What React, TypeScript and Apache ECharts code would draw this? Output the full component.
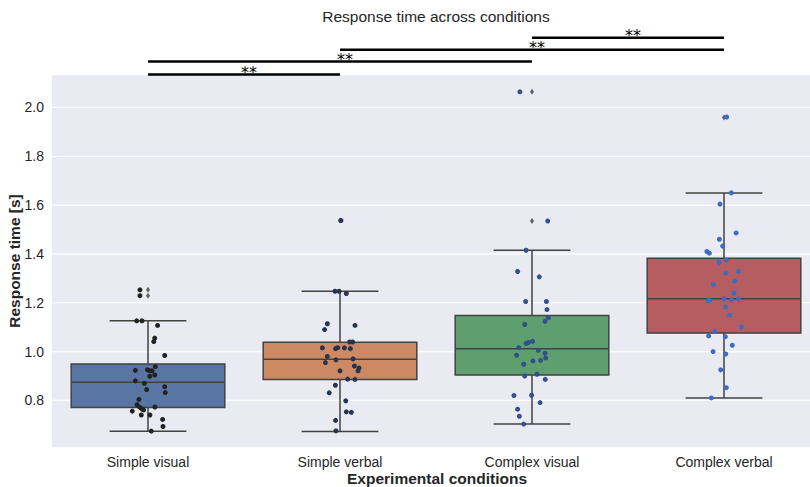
import React, { useEffect, useRef } from "react";
import * as echarts from "echarts";

const categories = ["Simple visual", "Simple verbal", "Complex visual", "Complex verbal"];
const yTicks = [0.8, 1.0, 1.2, 1.4, 1.6, 1.8, 2.0];

// [lower whisker, Q1, median, Q3, upper whisker]
const boxSimpleVisual = [0.674, 0.771, 0.874, 0.949, 1.126];
const boxSimpleVerbal = [0.673, 0.886, 0.969, 1.038, 1.247];
const boxComplexVisual = [0.703, 0.904, 1.011, 1.148, 1.415];
const boxComplexVerbal = [0.81, 1.076, 1.216, 1.382, 1.65];

const fliersSimpleVisual = [1.253, 1.229];
const fliersSimpleVerbal = [1.537];
const fliersComplexVisual = [2.064, 1.535];
const fliersComplexVerbal = [1.959];

const rtSimpleVisual = [1.253, 1.229, 1.126, 1.126, 1.107, 1.055, 1.041, 0.984, 0.938, 0.923, 0.925, 0.921, 0.921, 0.904, 0.899, 0.88, 0.87, 0.856, 0.844, 0.832, 0.804, 0.782, 0.771, 0.764, 0.761, 0.773, 0.756, 0.74, 0.74, 0.722, 0.693, 0.674];
const jitterSimpleVisual = [-0.042, -0.042, -0.059, -0.031, 0.05, 0.035, 0.03, 0.087, 0.038, -0.066, -0.003, 0.01, 0.021, 0.035, 0.009, -0.066, -0.019, 0.087, -0.007, 0.09, -0.047, -0.057, -0.042, -0.03, -0.023, 0.036, -0.082, -0.035, 0.01, 0.076, 0.078, 0.017];

const rtSimpleVerbal = [1.537, 1.247, 1.247, 1.238, 1.114, 1.09, 1.107, 1.039, 1.039, 1.015, 1.012, 1.016, 1.015, 1.012, 0.98, 0.966, 0.97, 0.955, 0.941, 0.933, 0.921, 0.921, 0.887, 0.886, 0.862, 0.831, 0.798, 0.753, 0.751, 0.718, 0.675];
const jitterSimpleVerbal = [0.005, -0.026, -0.005, 0.033, -0.066, -0.08, 0.078, 0.05, 0.066, -0.092, -0.023, -0.012, 0.023, 0.054, -0.066, -0.021, 0.068, -0.076, 0.075, 0.099, 0.094, 0.0, 0.04, 0.078, -0.024, -0.056, 0.03, 0.033, 0.059, -0.023, -0.021];

const rtComplexVisual = [2.064, 1.535, 1.415, 1.328, 1.306, 1.205, 1.205, 1.172, 1.139, 1.124, 1.111, 1.042, 1.037, 1.033, 1.016, 1.005, 0.985, 0.993, 0.974, 0.964, 0.962, 0.948, 0.907, 0.9, 0.886, 0.82, 0.821, 0.791, 0.764, 0.735, 0.703];
const jitterComplexVisual = [-0.063, 0.082, -0.031, -0.075, 0.038, -0.033, 0.075, 0.078, 0.085, 0.068, -0.038, 0.003, -0.019, -0.031, -0.069, 0.033, -0.08, 0.068, 0.071, 0.045, 0.005, -0.043, 0.026, -0.038, 0.069, -0.094, -0.002, 0.042, -0.075, -0.066, -0.043];

const rtComplexVerbal = [1.961, 1.65, 1.604, 1.486, 1.46, 1.432, 1.41, 1.403, 1.375, 1.366, 1.322, 1.328, 1.289, 1.275, 1.24, 1.21, 1.21, 1.217, 1.212, 1.215, 1.182, 1.149, 1.101, 1.082, 1.064, 1.061, 1.026, 1.0, 0.99, 0.925, 0.852, 0.81];
const jitterComplexVerbal = [0.014, 0.038, -0.021, 0.063, -0.024, -0.007, -0.089, -0.076, 0.012, -0.026, 0.01, 0.075, 0.056, -0.056, 0.052, -0.083, -0.075, 0.0, 0.04, 0.076, 0.009, 0.03, 0.09, -0.049, -0.08, 0.007, 0.043, -0.057, 0.009, -0.017, 0.012, -0.066];

// significance brackets: [from category, to category], level in data units
const sigFrom = [2, 1, 0, 0];
const sigTo = [3, 3, 2, 1];
const sigLevel = [2.2855, 2.2364, 2.1885, 2.1354];
const sigLabel = ["**", "**", "**", "**"];

const boxColors = ["#5975a4", "#cc8963", "#5f9e6e", "#b55d60"];
const pointColors = ["#222222", "#26344f", "#34508c", "#3d6cc0"];
const EDGE = "#424242";
const TEXT = "#262626";
const FONT = "'Liberation Sans', Arial, Helvetica, sans-serif";

export default function App() {
  const ref = useRef<HTMLDivElement>(null);
  useEffect(() => {
    if (!ref.current) return;
    const chart = echarts.init(ref.current, null, { renderer: "svg" });

    const boxes = [boxSimpleVisual, boxSimpleVerbal, boxComplexVisual, boxComplexVerbal];
    const fliers = [fliersSimpleVisual, fliersSimpleVerbal, fliersComplexVisual, fliersComplexVerbal];
    const rts = [rtSimpleVisual, rtSimpleVerbal, rtComplexVisual, rtComplexVerbal];
    const jit = [jitterSimpleVisual, jitterSimpleVerbal, jitterComplexVisual, jitterComplexVerbal];

    const boxData = boxes.map((b, i) => [i, ...b]);
    const flierData: number[][] = [];
    fliers.forEach((f, i) => f.forEach((v) => flierData.push([i, v])));
    const sigData = sigFrom.map((f, k) => [f, sigTo[k], sigLevel[k], k]);

    const series: any[] = [
      {
        type: "custom",
        silent: true,
        z: 1,
        data: yTicks.map((t) => [0, t]),
        encode: { x: 0, y: 1 },
        renderItem: (params: any, api: any) => {
          const y = api.coord([0, api.value(1)])[1];
          const cs = params.coordSys;
          return {
            type: "line",
            shape: { x1: cs.x, y1: y, x2: cs.x + cs.width, y2: y },
            style: { stroke: "#ffffff", lineWidth: 1.2 },
          };
        },
      },
      {
        type: "custom",
        silent: true,
        z: 2,
        data: boxData,
        encode: { x: 0, y: 3 },
        renderItem: (params: any, api: any) => {
          const i = api.value(0);
          const lo = api.coord([i, api.value(1)]);
          const q1 = api.coord([i, api.value(2)]);
          const md = api.coord([i, api.value(3)]);
          const q3 = api.coord([i, api.value(4)]);
          const hi = api.coord([i, api.value(5)]);
          const bw = api.size([0.8, 0])[0];
          const cw = api.size([0.4, 0])[0];
          const cx = lo[0];
          const ls = { stroke: EDGE, lineWidth: 1.5 };
          return {
            type: "group",
            children: [
              { type: "line", shape: { x1: cx, y1: q1[1], x2: cx, y2: lo[1] }, style: ls },
              { type: "line", shape: { x1: cx, y1: q3[1], x2: cx, y2: hi[1] }, style: ls },
              { type: "line", shape: { x1: cx - cw / 2, y1: lo[1], x2: cx + cw / 2, y2: lo[1] }, style: ls },
              { type: "line", shape: { x1: cx - cw / 2, y1: hi[1], x2: cx + cw / 2, y2: hi[1] }, style: ls },
              {
                type: "rect",
                shape: { x: cx - bw / 2, y: q3[1], width: bw, height: q1[1] - q3[1] },
                style: { fill: boxColors[params.dataIndex], stroke: EDGE, lineWidth: 1.5 },
              },
              { type: "line", shape: { x1: cx - bw / 2, y1: md[1], x2: cx + bw / 2, y2: md[1] }, style: ls },
            ],
          };
        },
      },
      {
        type: "scatter",
        silent: true,
        z: 3,
        symbol: "diamond",
        symbolSize: [4, 6],
        itemStyle: { color: "#3f3f3f" },
        data: flierData,
      },
      ...rts.map((vals, i) => ({
        type: "scatter",
        silent: true,
        z: 4,
        symbolSize: 5,
        itemStyle: { color: pointColors[i], opacity: 1 },
        data: vals.map((v, k) => [i + jit[i][k], v]),
      })),
      {
        type: "custom",
        silent: true,
        clip: false,
        z: 5,
        data: sigData,
        encode: { x: [0, 1], y: 2 },
        renderItem: (params: any, api: any) => {
          const lvl = api.value(2);
          const p1 = api.coord([api.value(0), lvl]);
          const p2 = api.coord([api.value(1), lvl]);
          return {
            type: "group",
            children: [
              {
                type: "line",
                shape: { x1: p1[0], y1: p1[1], x2: p2[0], y2: p2[1] },
                style: { stroke: "#000000", lineWidth: 2.5 },
              },
              {
                type: "text",
                x: (p1[0] + p2[0]) / 2 + 5,
                y: p1[1] - 2,
                style: {
                  text: sigLabel[api.value(3)],
                  fill: "#000000",
                  font: "16px 'DejaVu Sans', sans-serif",
                  align: "center",
                  textAlign: "center",
                  verticalAlign: "middle",
                  textVerticalAlign: "middle",
                },
              },
            ],
          };
        },
      },
    ];

    chart.setOption({
      animation: false,
      grid: {
        left: 52,
        width: 768,
        top: 75,
        bottom: 40,
        show: true,
        backgroundColor: "#eaeaf2",
        borderWidth: 0,
        outerBoundsMode: "none",
        containLabel: false,
      },
      xAxis: {
        type: "value",
        min: -0.5,
        max: 3.5,
        axisLine: { show: false },
        axisTick: { show: false },
        splitLine: { show: false },
        axisLabel: {
          customValues: [0, 1, 2, 3],
          formatter: (v: number) => categories[Math.round(v)] ?? "",
          color: TEXT,
          fontSize: 14,
          fontFamily: FONT,
          margin: 8,
        },
      },
      yAxis: {
        type: "value",
        min: 0.609,
        max: 2.133,
        axisLine: { show: false },
        axisTick: { show: false },
        splitLine: { show: false },
        axisLabel: {
          customValues: yTicks,
          formatter: (v: number) => v.toFixed(1),
          color: TEXT,
          fontSize: 14,
          fontFamily: FONT,
          margin: 8,
        },
      },
      graphic: [
        {
          type: "text",
          x: 436,
          y: 16,
          style: {
            text: "Response time across conditions",
            fill: TEXT,
            font: `15.5px ${FONT}`,
            align: "center",
            textAlign: "center",
            verticalAlign: "middle",
            textVerticalAlign: "middle",
          },
        },
        {
          type: "text",
          x: 437,
          y: 478,
          style: {
            text: "Experimental conditions",
            fill: TEXT,
            font: `bold 15.5px ${FONT}`,
            align: "center",
            textAlign: "center",
            verticalAlign: "middle",
            textVerticalAlign: "middle",
          },
        },
        {
          type: "text",
          x: 14,
          y: 261,
          rotation: Math.PI / 2,
          style: {
            text: "Response time [s]",
            fill: TEXT,
            font: `bold 15.5px ${FONT}`,
            align: "center",
            textAlign: "center",
            verticalAlign: "middle",
            textVerticalAlign: "middle",
          },
        },
      ],
      series,
    });
    return () => chart.dispose();
  }, []);
  return (
    <div
      ref={ref}
      style={{ position: "absolute", left: 0, top: 0, width: 810, height: 487 }}
    />
  );
}
